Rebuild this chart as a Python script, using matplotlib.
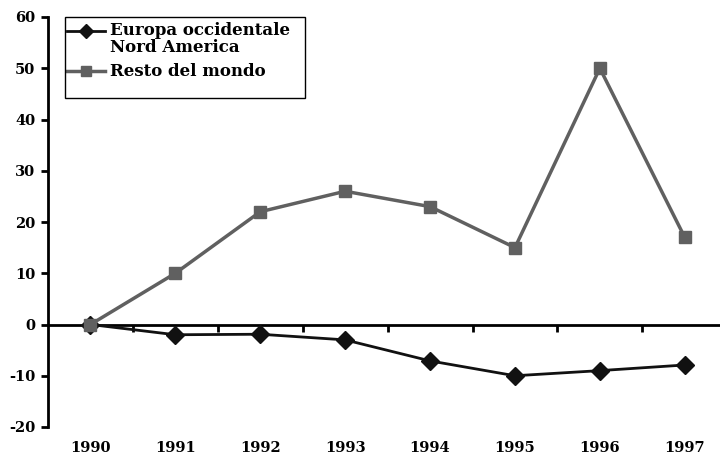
import matplotlib
matplotlib.use("Agg")
import matplotlib.pyplot as plt
from matplotlib.patches import Rectangle
from matplotlib.legend_handler import HandlerLine2D

years = ["1990", "1991", "1992", "1993", "1994", "1995", "1996", "1997"]
europa_na = [0, -2, -1.9, -3, -7.1, -10, -9, -7.9]
resto = [0, 10, 22, 26, 23, 15, 50, 17]
label_europa = "Europa occidentale\nNord America"
label_resto = "Resto del mondo"
yticks = [-20, -10, 0, 10, 20, 30, 40, 50, 60]

plt.rcParams['font.family'] = ['DejaVu Serif']
plt.rcParams['font.weight'] = 'bold'


class TopLineHandler(HandlerLine2D):
    def __init__(self, shift=0.0, **kw):
        super().__init__(**kw)
        self.shift = shift

    def create_artists(self, legend, orig_handle, xdescent, ydescent, width,
                       height, fontsize, trans):
        return super().create_artists(legend, orig_handle, xdescent,
                                      ydescent - 2 * self.shift, width, height,
                                      fontsize, trans)


fig = plt.figure(figsize=(7.2, 4.54), dpi=100)
ax = fig.add_axes([48/720, 1-427/454, 8*84.9/720, 410/454])

x = list(range(len(years)))
l1, = ax.plot(x, europa_na, color="#111111", lw=2, marker="D", markersize=9,
              markerfacecolor="#111111", markeredgecolor="#111111", label=label_europa, zorder=3)
l2, = ax.plot(x, resto, color="#606060", lw=2.5, marker="s", markersize=9,
              markerfacecolor="#606060", markeredgecolor="#606060", label=label_resto, zorder=4)

ax.set_xlim(-0.5, len(years) - 0.5)
ax.set_ylim(-20, 60)
ax.set_yticks(yticks)
ax.set_yticklabels([str(v) for v in yticks], fontsize=10.5, fontweight='bold')
ax.tick_params(axis='y', direction='out', length=5, width=2, pad=4)

ax.spines['top'].set_visible(False)
ax.spines['right'].set_visible(False)
ax.spines['bottom'].set_visible(False)
ax.spines['left'].set_linewidth(2)

ax.set_xticks(x)
ax.set_xticklabels(years, fontsize=10.5, fontweight='bold')
ax.tick_params(axis='x', length=0, pad=10)

sec = ax.secondary_xaxis(0.25)
sec.set_xticks([i + 0.5 for i in x[:-1]])
sec.set_xticklabels([])
sec.tick_params(axis='x', direction='out', length=5, width=2)
sec.spines['bottom'].set_linewidth(2)

leg = ax.legend(loc='upper left', bbox_to_anchor=(67/720, 1-22/454),
                bbox_transform=fig.transFigure, borderaxespad=0,
                frameon=False,
                prop={'family': 'DejaVu Serif', 'weight': 'bold', 'size': 12},
                handlelength=2.3, handletextpad=0.25, labelspacing=0.45,
                borderpad=0.0,
                handler_map={l1: TopLineHandler(shift=6.0)})
for t in leg.get_texts():
    t.set_linespacing(1.0)
for h in leg.legend_handles:
    h.set_markersize(7.5)
leg._legend_box.align = "left"

frame = Rectangle((65/720, 1-98/454), 240/720, 81/454, transform=fig.transFigure,
                  fill=False, edgecolor='black', lw=1, zorder=5)
fig.patches.append(frame)

fig.savefig("out.png", dpi=100)
